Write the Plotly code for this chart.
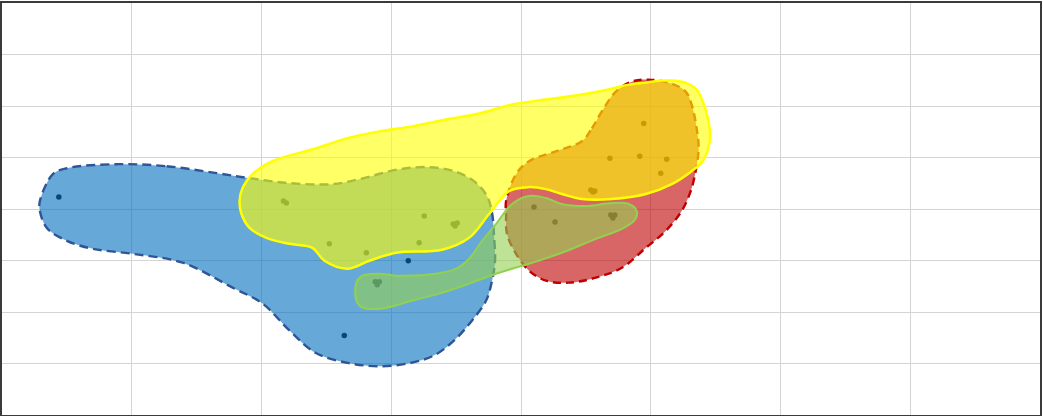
import plotly.graph_objects as go

# Group outlines (x, y in axis units; x spans 0-8, y spans 0-8)
blue_x = [0.885, 1.269, 1.654, 1.908, 2.215, 2.546, 2.754, 3.062, 3.292, 3.485, 3.638, 3.738,
          3.777, 3.792, 3.800, 3.777, 3.731, 3.623, 3.485, 3.331, 3.138, 2.908, 2.677, 2.423,
          2.215, 2.008, 1.777, 1.392, 1.008, 0.700, 0.500, 0.346, 0.292, 0.292, 0.392, 0.500]
blue_y = [4.870, 4.831, 4.696, 4.599, 4.502, 4.483, 4.580, 4.773, 4.812, 4.734, 4.541, 4.251,
          3.923, 3.478, 2.995, 2.609, 2.222, 1.836, 1.449, 1.159, 1.005, 0.947, 1.005, 1.198,
          1.643, 2.164, 2.473, 2.957, 3.130, 3.227, 3.382, 3.633, 3.961, 4.155, 4.676, 4.792]

red_x = [4.469, 4.546, 4.623, 4.731, 4.854, 4.985, 5.162, 5.269, 5.315, 5.354, 5.369, 5.346,
         5.308, 5.238, 5.115, 4.962, 4.777, 4.577, 4.369, 4.192, 4.062, 3.962, 3.892, 3.885,
         3.885, 3.962, 4.062, 4.269]
red_y = [5.314, 5.565, 5.894, 6.280, 6.473, 6.512, 6.435, 6.280, 6.029, 5.565, 5.179, 4.734,
         4.348, 3.961, 3.575, 3.246, 2.860, 2.667, 2.570, 2.609, 2.802, 3.130, 3.517, 3.903,
         4.155, 4.676, 4.928, 5.121]

yellow_x = [2.423, 2.654, 2.908, 3.162, 3.423, 3.677, 3.931, 4.192, 4.469, 4.700, 4.831, 4.962,
            5.085, 5.238, 5.346, 5.392, 5.446, 5.454, 5.400, 5.315, 5.162, 4.962, 4.700, 4.469,
            4.315, 4.192, 4.062, 3.908, 3.754, 3.600, 3.392, 3.038, 2.831, 2.662, 2.485, 2.392,
            2.215, 2.038, 1.908, 1.846, 1.831, 1.854, 1.931, 2.085]
yellow_y = [5.179, 5.372, 5.507, 5.604, 5.739, 5.855, 6.029, 6.126, 6.222, 6.338, 6.415, 6.454,
            6.493, 6.473, 6.338, 6.145, 5.700, 5.314, 4.928, 4.734, 4.483, 4.290, 4.193, 4.193,
            4.290, 4.386, 4.425, 4.348, 3.903, 3.440, 3.208, 3.150, 2.995, 2.841, 2.995, 3.246,
            3.324, 3.440, 3.633, 3.903, 4.155, 4.406, 4.676, 4.928]

green_x = [3.162, 3.369, 3.600, 3.831, 4.062, 4.315, 4.577, 4.777, 4.877, 4.892, 4.831, 4.700,
           4.500, 4.315, 4.192, 4.062, 3.931, 3.808, 3.700, 3.600, 3.500, 3.346, 3.038, 2.908,
           2.777, 2.731, 2.731, 2.777, 2.931]
green_y = [2.222, 2.357, 2.551, 2.763, 2.937, 3.150, 3.420, 3.614, 3.787, 3.961, 4.097, 4.116,
           4.058, 4.097, 4.213, 4.251, 4.097, 3.710, 3.382, 3.034, 2.841, 2.744, 2.705, 2.744,
           2.705, 2.570, 2.222, 2.087, 2.068]

# Observations belonging to each group
blue_pts_x = [0.438, 3.131, 2.638]
blue_pts_y = [4.232, 2.995, 1.546]
yellow_pts_x = [2.169, 2.192, 2.523, 2.808, 3.215, 3.254, 3.477, 3.508, 3.492]
yellow_pts_y = [4.155, 4.116, 3.324, 3.150, 3.343, 3.865, 3.710, 3.729, 3.671]
red_pts_x = [4.946, 4.685, 4.915, 5.123, 5.077, 4.538, 4.569, 4.554]
red_pts_y = [5.662, 4.986, 5.024, 4.966, 4.696, 4.367, 4.348, 4.329]
green_pts_x = [2.877, 2.908, 2.892, 4.100, 4.262, 4.692, 4.723, 4.708]
green_pts_y = [2.589, 2.589, 2.531, 4.039, 3.749, 3.884, 3.884, 3.826]

fig = go.Figure()

# points sit beneath the translucent hulls
for px, py in [(blue_pts_x, blue_pts_y), (yellow_pts_x, yellow_pts_y),
               (red_pts_x, red_pts_y), (green_pts_x, green_pts_y)]:
    fig.add_trace(go.Scatter(x=px, y=py, mode="markers",
                             marker=dict(size=5.5, color="#0d0d0d"),
                             showlegend=False, hoverinfo="skip"))

hulls = [
    (blue_x, blue_y, "rgba(0,112,192,0.6)", "#2f5597", "9px,5px", 2.4),
    (red_x, red_y, "rgba(192,0,0,0.6)", "#c00000", "8px,5px", 2.4),
    (yellow_x, yellow_y, "rgba(255,255,0,0.6)", "#ffff00", "solid", 2.5),
    (green_x, green_y, "rgba(146,208,80,0.6)", "#92d050", "solid", 2),
]
for hx, hy, fillc, linec, dash, w in hulls:
    fig.add_trace(go.Scatter(
        x=hx + hx[:1], y=hy + hy[:1], mode="lines", fill="toself",
        fillcolor=fillc,
        line=dict(color=linec, width=w, dash=dash, shape="spline", smoothing=1.0),
        showlegend=False, hoverinfo="skip"))

axis_common = dict(showticklabels=False, ticks="", zeroline=False,
                   showgrid=True, gridcolor="#d4d4d4", gridwidth=1,
                   showline=True, mirror=True, linecolor="#3a3a3a", linewidth=2,
                   dtick=1, tick0=0)
fig.update_layout(
    width=1043, height=416,
    margin=dict(l=2, r=2, t=1, b=1),
    paper_bgcolor="white", plot_bgcolor="white",
    xaxis=dict(range=[0, 8], **axis_common),
    yaxis=dict(range=[0, 8], **axis_common),
)

fig.write_html("out.html")
